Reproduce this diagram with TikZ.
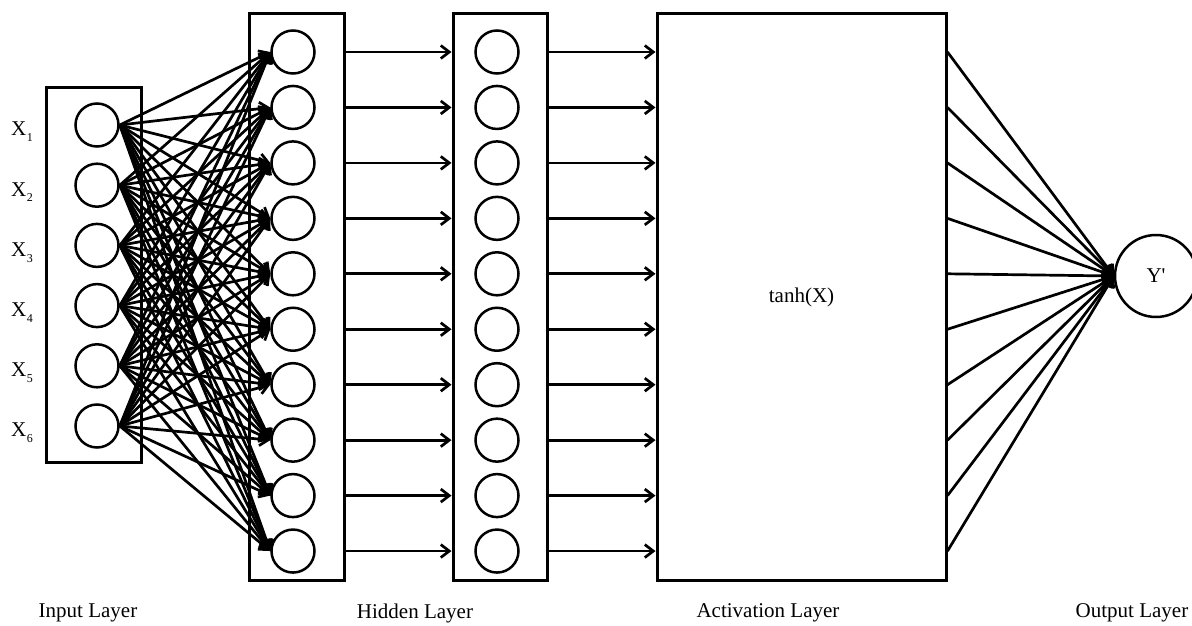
\documentclass[tikz,border=0pt]{standalone}
\usepackage{fontspec}
\setmainfont{Liberation Serif}
\usetikzlibrary{arrows.meta}
\newcommand\xin[1]{X\kern0.5pt\raisebox{-0.6ex}{\fontsize{12}{12}\selectfont #1}}
\begin{document}
\begin{tikzpicture}[x=1pt,y=-1pt,
  neuron/.style={circle,draw,line width=2.5pt,minimum size=43pt,inner sep=0pt},
  layerbox/.style={draw,rectangle,line width=3pt,inner sep=0pt},
  link/.style={line width=2.7pt,-{Straight Barb[length=8.5pt,width=13pt]}},
  lbl/.style={font=\fontsize{21}{25}\selectfont}]
\useasboundingbox (0,0) rectangle (1192,626);

% layer frames
\node[layerbox,minimum width=95pt,minimum height=374pt] (inbox) at (93.5,275) {};
\node[layerbox,minimum width=95pt,minimum height=566pt] (hbox) at (296.5,297) {};
\node[layerbox,minimum width=94pt,minimum height=566pt] (abox) at (500,297) {};
\node[layerbox,minimum width=289pt,minimum height=566pt,lbl] (act) at (801.5,297) {tanh(X)};

% input neurons and their labels
\foreach \i in {1,...,6} {
  \node[neuron] (in\i) at (97,{125+60.2*(\i-1)}) {};
  \node[lbl,anchor=center] (x\i) at (22,{132+60.2*(\i-1)}) {\xin{\i}};
}

% hidden neurons
\foreach \j in {1,...,10} {
  \node[neuron] (h\j) at (293,{52+55.45*(\j-1)}) {};
  \node[neuron] (a\j) at (497,{52+55.45*(\j-1)}) {};
}

% output neuron
\node[neuron,minimum size=82pt,lbl] (out) at (1156,276) {Y\textquotesingle};

% fully connected input -> hidden
\foreach \i in {1,...,6}
  \foreach \j in {1,...,10}
    \draw[link] (in\i.east) -- (h\j.west);

% hidden -> second stage -> activation
\foreach \j in {1,...,10} {
  \draw[link] (h\j -| hbox.east) -- (a\j -| abox.west);
  \draw[link] (a\j -| abox.east) -- (a\j -| act.west);
  \draw[link] (a\j -| act.east) -- (out.west);
}

% layer captions
\node[lbl] (cin) at (88,613) {Input Layer};
\node[lbl] (chid) at (415,613) {Hidden Layer};
\node[lbl] (cact) at (768,613) {Activation Layer};
\node[lbl] (cout) at (1132,613) {Output Layer};
\end{tikzpicture}
\end{document}
